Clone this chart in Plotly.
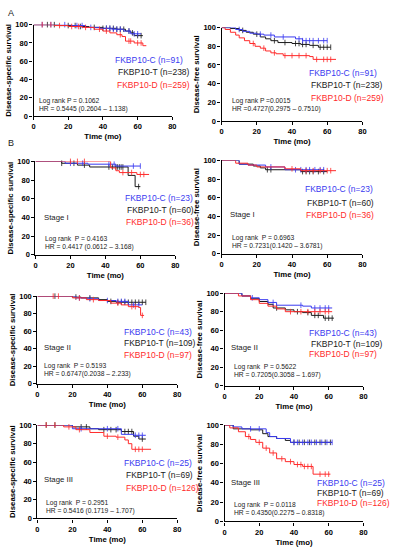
import plotly.graph_objects as go

W, H = 393, 550
BLUE = "#3a3af0"
BLACK = "#1a1a1a"
RED = "#ff2a2a"

# ---------------- data (time in months, survival %) ----------------
# Panel 1: Disease-specific survival, all
p1_C_t = [0, 22, 30, 38, 45, 52, 56, 62]
p1_C_s = [100, 99, 97, 96, 95, 93, 90, 90]
p1_C_cens = [5, 10, 18, 25, 28, 33, 42, 44, 46, 48, 50, 55, 58, 60]
p1_T_t = [0, 15, 25, 32, 40, 48, 53, 56, 58, 63]
p1_T_s = [100, 99, 98, 97, 96, 95, 93, 91, 88, 88]
p1_T_cens = [8, 12, 20, 24, 27, 35, 40, 42, 44, 46, 48, 50, 52, 55, 57, 60, 62]
p1_D_t = [0, 12, 20, 28, 35, 40, 44, 48, 51, 53, 58, 63, 65]
p1_D_s = [100, 99, 98, 97, 95, 93, 91, 89, 87, 82, 80, 77, 77]
p1_D_cens = [5, 10, 15, 22, 26, 30, 38, 42, 50, 55, 56, 60, 62]

# Panel 2: Disease-free survival, all
p2_C_t = [0, 8, 12, 16, 20, 24, 30, 42, 46, 60]
p2_C_s = [100, 98, 96, 94, 93, 92, 90, 88, 86, 86]
p2_C_cens = [10, 22, 28, 35, 44, 46, 48, 50, 52, 55, 58, 60]
p2_T_t = [0, 5, 10, 14, 18, 22, 25, 28, 32, 40, 45, 50, 55, 62]
p2_T_s = [100, 99, 97, 95, 93, 90, 88, 86, 84, 83, 82, 81, 79, 79]
p2_T_cens = [12, 20, 30, 36, 42, 44, 46, 48, 52, 56, 58, 60, 62]
p2_D_t = [0, 2, 5, 8, 10, 13, 16, 19, 22, 25, 28, 31, 35, 40, 50, 52, 65]
p2_D_s = [100, 98, 95, 92, 89, 86, 83, 80, 78, 75, 73, 72, 70, 70, 69, 66, 66]
p2_D_cens = [18, 24, 30, 36, 40, 44, 48, 54, 58, 60, 62]

# Panel 3: DSS, stage I
p3_C_t = [0, 17, 30, 46, 60]
p3_C_s = [100, 98, 97, 95, 95]
p3_C_cens = [20, 27, 42, 45, 56, 60]
p3_T_t = [0, 15, 24, 31, 53, 57, 60]
p3_T_s = [100, 98, 96, 94, 85, 73, 73]
p3_T_cens = [15, 22, 28, 42, 44, 46, 47, 48, 49, 50, 59]
p3_D_t = [0, 43, 46, 48, 58, 65]
p3_D_s = [100, 93, 90, 88, 86, 86]
p3_D_cens = [20, 24, 28, 50, 55, 60, 62]

# Panel 4: DFS, stage I
p4_C_t = [0, 10, 15, 25, 36, 58]
p4_C_s = [100, 96, 95, 93, 90, 90]
p4_C_cens = [28, 42, 45, 48, 50, 53, 56, 58]
p4_T_t = [0, 10, 18, 22, 25, 45, 60]
p4_T_s = [100, 96, 94, 92, 90, 88, 88]
p4_T_cens = [26, 28, 46, 48, 50, 52, 55, 58]
p4_D_t = [0, 8, 15, 20, 36, 45, 65]
p4_D_s = [100, 97, 95, 93, 91, 89, 89]
p4_D_cens = [40, 48, 52, 56, 60, 62]

# Panel 5: DSS, stage II
p5_C_t = [0, 22, 28, 35, 45, 52, 60]
p5_C_s = [100, 98, 97, 95, 94, 90, 90]
p5_C_cens = [24, 30, 40, 46, 48, 50, 55, 58]
p5_T_t = [0, 20, 25, 35, 40, 45, 62]
p5_T_s = [100, 99, 98, 96, 94, 93, 93]
p5_T_cens = [10, 22, 30, 42, 46, 48, 50, 52, 54, 56, 58, 60, 62]
p5_D_t = [0, 20, 28, 35, 42, 48, 52, 58, 59, 61]
p5_D_s = [100, 98, 96, 95, 92, 90, 88, 87, 78, 78]
p5_D_cens = [9, 12, 24, 32, 46, 54, 56, 60]

# Panel 6: DFS, stage II
p6_C_t = [0, 10, 15, 20, 25, 30, 45, 50, 62]
p6_C_s = [100, 97, 95, 93, 90, 87, 86, 84, 84]
p6_C_cens = [16, 28, 44, 52, 55, 58, 60]
p6_T_t = [0, 10, 15, 20, 25, 28, 35, 40, 45, 50, 57, 63]
p6_T_s = [100, 97, 94, 91, 88, 84, 82, 80, 79, 76, 73, 73]
p6_T_cens = [30, 42, 48, 52, 54, 58, 60, 62]
p6_D_t = [0, 8, 15, 20, 25, 30, 35, 62]
p6_D_s = [100, 97, 93, 89, 86, 83, 80, 80]
p6_D_cens = [38, 44, 48, 52, 55, 58, 60]

# Panel 7: DSS, stage III
p7_C_t = [0, 20, 48, 55, 62]
p7_C_s = [100, 96, 90, 89, 89]
p7_C_cens = [25, 40, 46, 56, 58, 60]
p7_T_t = [0, 20, 30, 35, 48, 55, 58, 62]
p7_T_s = [100, 98, 96, 95, 93, 88, 85, 85]
p7_T_cens = [5, 10, 25, 28, 38, 42, 45, 50, 52, 54, 60]
p7_D_t = [0, 15, 22, 30, 38, 45, 50, 52, 54, 65]
p7_D_s = [100, 98, 95, 92, 88, 87, 84, 80, 74, 74]
p7_D_cens = [5, 10, 18, 24, 40, 46, 56, 58, 60]

# Panel 8: DFS, stage III
p8_C_t = [0, 5, 10, 24, 26, 30, 38, 62]
p8_C_s = [100, 98, 96, 92, 88, 86, 82, 82]
p8_C_cens = [15, 20, 40, 42, 45, 48, 50, 53, 56, 59, 62]
p8_T_t = [0, 5, 15, 22, 25, 30, 35, 38, 62]
p8_T_s = [100, 96, 95, 91, 88, 86, 84, 82, 82]
p8_T_cens = [40, 43, 46, 49, 52, 55, 58, 61]
p8_D_t = [0, 3, 8, 12, 15, 18, 22, 26, 30, 35, 40, 45, 51, 61]
p8_D_s = [100, 97, 93, 88, 85, 82, 76, 71, 65, 62, 59, 57, 49, 49]
p8_D_cens = [14, 20, 24, 28, 33, 38, 42, 44, 46, 48, 50, 55, 58, 60]

y_titles = ["Disease-specific survival", "Disease-free survival"] * 4
legend_n = [
    ("91", "238", "259"), ("91", "238", "259"),
    ("23", "60", "36"), ("23", "60", "36"),
    ("43", "109", "97"), ("43", "109", "97"),
    ("25", "69", "126"), ("25", "69", "126"),
]
stage_labels = [None, None, "Stage I", "Stage I", "Stage II", "Stage II", "Stage III", "Stage III"]
logrank_lines = [
    ("Log rank P = 0.1062", "HR = 0.5445 (0.2604 \u2013 1.138)"),
    ("Log rank P =0.0015", "HR =0.4727(0.2975 \u2013 0.7510)"),
    ("Log rank  P = 0.4163", "HR = 0.4417 (0.0612 \u2013 3.168)"),
    ("Log rank  P = 0.6963", "HR = 0.7231(0.1420 \u2013 3.6781)"),
    ("Log rank  P = 0.5193", "HR = 0.6747(0.2038 \u2013 2.233)"),
    ("Log rank  P = 0.5622", "HR = 0.7205(0.3058 \u2013 1.697)"),
    ("Log rank  P = 0.2951", "HR = 0.5416 (0.1719 \u2013 1.707)"),
    ("Log rank  P = 0.0118", "HR = 0.4350(0.2275 \u2013 0.8318)"),
]

panels = [
    [(p1_T_t, p1_T_s, p1_T_cens), (p1_C_t, p1_C_s, p1_C_cens), (p1_D_t, p1_D_s, p1_D_cens)],
    [(p2_T_t, p2_T_s, p2_T_cens), (p2_C_t, p2_C_s, p2_C_cens), (p2_D_t, p2_D_s, p2_D_cens)],
    [(p3_T_t, p3_T_s, p3_T_cens), (p3_C_t, p3_C_s, p3_C_cens), (p3_D_t, p3_D_s, p3_D_cens)],
    [(p4_T_t, p4_T_s, p4_T_cens), (p4_C_t, p4_C_s, p4_C_cens), (p4_D_t, p4_D_s, p4_D_cens)],
    [(p5_T_t, p5_T_s, p5_T_cens), (p5_C_t, p5_C_s, p5_C_cens), (p5_D_t, p5_D_s, p5_D_cens)],
    [(p6_T_t, p6_T_s, p6_T_cens), (p6_C_t, p6_C_s, p6_C_cens), (p6_D_t, p6_D_s, p6_D_cens)],
    [(p7_T_t, p7_T_s, p7_T_cens), (p7_C_t, p7_C_s, p7_C_cens), (p7_D_t, p7_D_s, p7_D_cens)],
    [(p8_T_t, p8_T_s, p8_T_cens), (p8_C_t, p8_C_s, p8_C_cens), (p8_D_t, p8_D_s, p8_D_cens)],
]
curve_colors = [BLACK, BLUE, RED]

# ---------------- layout geometry (pixels: left, right, top, bottom) ----------------
boxes = [
    (32, 173, 21, 114), (223, 366, 24, 119),
    (34, 176, 160, 255), (223, 366, 159, 254),
    (36, 178, 297, 386), (226, 367, 294, 388),
    (36, 178, 428, 523), (226, 367, 428, 526),
]
legend_pos = [
    ((113, 57), (116, 69), (115, 82)),
    ((310, 70), (312, 82), (312, 96)),
    ((123, 197), (125, 209), (124, 222)),
    ((306, 188), (308, 202), (307, 215)),
    ((122, 333), (122, 345), (122, 357)),
    ((310, 334), (312, 346), (310, 356)),
    ((122, 467), (124, 479), (124, 492)),
    ((318, 487), (318, 497), (318, 507)),
]
stage_pos = [None, None, (41, 217), (230, 214), (41, 349), (231, 349), (41, 483), (231, 486)]
logrank_pos = [(36, 99), (232, 99), (42, 239), (232, 238), (41, 368), (234, 369), (43, 507), (234, 509)]


def surv_at(ts, ss, tc):
    val = ss[0]
    for t, s in zip(ts, ss):
        if t <= tc:
            val = s
    return val


def px(x, y):
    return x / W, 1 - y / H


FONT = "Liberation Sans, Arial, sans-serif"
fig = go.Figure()
annotations = []
layout_axes = {}

for i, (curves, box) in enumerate(zip(panels, boxes)):
    k = "" if i == 0 else str(i + 1)
    xa, ya = "x" + k, "y" + k
    for (ts, ss, cens), col in zip(curves, curve_colors):
        fig.add_trace(go.Scatter(
            x=ts, y=ss, mode="lines", line=dict(color=col, width=1, shape="hv"),
            xaxis=xa, yaxis=ya, showlegend=False, hoverinfo="skip", cliponaxis=False))
        fig.add_trace(go.Scatter(
            x=cens, y=[surv_at(ts, ss, c) for c in cens], mode="markers",
            marker=dict(symbol="line-ns", size=4, line=dict(color=col, width=0.8)),
            xaxis=xa, yaxis=ya, showlegend=False, hoverinfo="skip", cliponaxis=False))
    l, r, t, b = box
    x0, x1 = l / W, r / W
    y0, y1 = 1 - b / H, 1 - t / H
    common = dict(showline=True, linecolor="black", linewidth=1.3, ticks="outside",
                  ticklen=3, tickwidth=1, tickcolor="black", showgrid=False, zeroline=False,
                  tickfont=dict(family=FONT, size=7.5, color="black", weight="bold"))
    layout_axes["xaxis" + k] = dict(
        domain=[x0, x1], range=[0, 80], anchor=ya, tickvals=[0, 20, 40, 60, 80],
        title=dict(text="Time (mo)", standoff=3,
                   font=dict(family=FONT, size=7.8, color="black", weight="bold")), **common)
    layout_axes["yaxis" + k] = dict(
        domain=[y0, y1], range=[0, 100], anchor=xa, tickvals=[0, 20, 40, 60, 80, 100],
        title=dict(text=y_titles[i], standoff=2,
                   font=dict(family=FONT, size=7.8, color="black", weight="bold")), **common)

    nC, nT, nD = legend_n[i]
    labels = [("FKBP10-C (n=%s)" % nC, BLUE), ("FKBP10-T (n=%s)" % nT, BLACK), ("FKBP10-D (n=%s)" % nD, RED)]
    for (txt, col), pos in zip(labels, legend_pos[i]):
        ax, ay = px(*pos)
        annotations.append(dict(x=ax, y=ay, xref="paper", yref="paper", text=txt, showarrow=False,
                                xanchor="left", yanchor="middle",
                                font=dict(family=FONT, size=8.5, color=col)))
    if stage_labels[i]:
        ax, ay = px(*stage_pos[i])
        annotations.append(dict(x=ax, y=ay, xref="paper", yref="paper", text=stage_labels[i],
                                showarrow=False, xanchor="left", yanchor="middle",
                                font=dict(family=FONT, size=7.8, color=BLACK)))
    lx, ly = logrank_pos[i]
    for j, line in enumerate(logrank_lines[i]):
        ax, ay = px(lx, ly + j * 8)
        annotations.append(dict(x=ax, y=ay, xref="paper", yref="paper", text=line, showarrow=False,
                                xanchor="left", yanchor="middle",
                                font=dict(family=FONT, size=6.7, color=BLACK)))

for letter, pos in (("A", (4, 9)), ("B", (4, 141))):
    ax, ay = px(*pos)
    annotations.append(dict(x=ax, y=ay, xref="paper", yref="paper", text=letter, showarrow=False,
                            xanchor="left", yanchor="middle",
                            font=dict(family=FONT, size=9, color=BLACK)))

fig.update_layout(width=W, height=H, autosize=False, margin=dict(l=0, r=0, t=0, b=0),
                  paper_bgcolor="white", plot_bgcolor="white", annotations=annotations,
                  font=dict(family=FONT), **layout_axes)
fig.write_html("out.html", config={"displayModeBar": False},
               post_script="document.body.style.margin='0';document.body.style.overflow='hidden';")
